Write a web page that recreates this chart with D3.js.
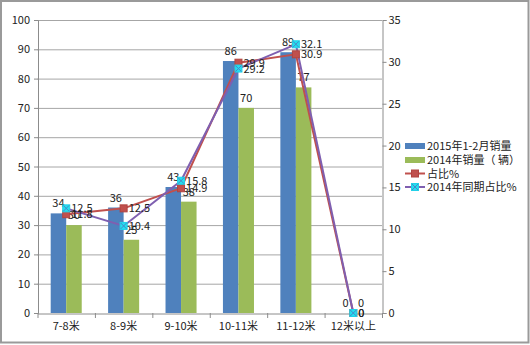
<!DOCTYPE html>
<html><head><meta charset="utf-8">
<script src="https://cdn.jsdelivr.net/npm/d3@7"></script>
<style>
body{margin:0;background:#fff;}
text{font-family:"Noto Sans CJK SC","DejaVu Sans",sans-serif;font-size:11px;fill:#222;}
</style></head>
<body><svg id="c" width="530" height="345"></svg>
<script>
const categories = ["7-8米","8-9米","9-10米","10-11米","11-12米","12米以上"];
const sales2015 = [34,36,43,86,89,0];
const sales2014 = [30,25,38,70,77,0];
const share2015 = [11.8,12.5,14.9,29.9,30.9,0];
const share2014 = [12.5,10.4,15.8,29.2,32.1,0];
const leftTicks = [0,10,20,30,40,50,60,70,80,90,100];
const rightTicks = [0,5,10,15,20,25,30,35];
const seriesNames = ["2015年1-2月销量","2014年销量（ 辆）","占比%","2014年同期占比%"];

const svg = d3.select("#c");
const L = 37.5, R = 382, T = 20, B = 313;
svg.append("rect").attr("x",1).attr("y",1).attr("width",527.5).attr("height",341.5)
  .attr("fill","#fff").attr("stroke","#9a9a9a").attr("stroke-width",2);

const x = d3.scaleBand().domain(categories).range([L,R]).paddingInner(0).paddingOuter(0);
const xs = d3.scaleBand().domain([0,1]).range([0,x.bandwidth()]).paddingOuter(0.85).paddingInner(0);
const yL = d3.scaleLinear().domain([0,100]).range([B,T]);
const yR = d3.scaleLinear().domain([0,35]).range([B,T]);

// gridlines
svg.append("g").selectAll("line").data(leftTicks.slice(1)).join("line")
  .attr("x1",L).attr("x2",R).attr("y1",d=>yL(d)+0.5).attr("y2",d=>yL(d)+0.5)
  .attr("stroke","#a6a6a6").attr("stroke-width",1);

const gL = svg.append("g").attr("transform",`translate(${L+0.5},0)`)
  .call(d3.axisLeft(yL).tickValues(leftTicks).tickSize(4).tickPadding(4));
const gR = svg.append("g").attr("transform",`translate(${R+0.5},0)`)
  .call(d3.axisRight(yR).tickValues(rightTicks).tickSize(4).tickPadding(2));
const gX = svg.append("g").attr("transform",`translate(0,${B+0.5})`)
  .call(d3.axisBottom(x).tickSize(0).tickPadding(9));
[gL,gR,gX].forEach(g=>{
  g.selectAll("path.domain").attr("stroke","#8c8c8c");
  g.selectAll(".tick line").attr("stroke","#8c8c8c");
  g.selectAll("text").style("font-family",'"Noto Sans CJK SC","DejaVu Sans",sans-serif').style("font-size","11px").attr("fill","#222");
});
svg.append("g").selectAll("line").data(categories.concat(["end"])).join("line")
  .attr("x1",(d,i)=>L+i*x.bandwidth()+0.5).attr("x2",(d,i)=>L+i*x.bandwidth()+0.5)
  .attr("y1",B).attr("y2",B+5).attr("stroke","#8c8c8c");

// bars
const barData = [sales2015, sales2014];
const barColors = ["#4f81bd","#9bbb59"];
barData.forEach((arr,si)=>{
  svg.append("g").selectAll("rect").data(arr).join("rect")
    .attr("x",(d,i)=>x(categories[i])+xs(si)).attr("width",xs.bandwidth())
    .attr("y",d=>yL(d)).attr("height",d=>B-yL(d)).attr("fill",barColors[si]);
});
barData.forEach((arr,si)=>{
  svg.append("g").selectAll("text").data(arr).join("text")
    .attr("x",(d,i)=>x(categories[i])+xs(si)+xs.bandwidth()/2)
    .attr("y",d=>yL(d)-6).attr("text-anchor","middle").text(d=>d);
});

// lines
const lineData = [share2015, share2014];
const lineColors = ["#c0504d","#7f5fb0"];
const cx = i => x(categories[i]) + x.bandwidth()/2;
lineData.forEach((arr,si)=>{
  const line = d3.line().x((d,i)=>cx(i)).y(d=>yR(d));
  svg.append("path").datum(arr).attr("d",line).attr("fill","none")
    .attr("stroke",lineColors[si]).attr("stroke-width",2);
});
function redMarker(g,px,py){
  g.append("rect").attr("x",px-3.5).attr("y",py-3.5).attr("width",7).attr("height",7)
    .attr("fill","#c0504d").attr("stroke","#b04440").attr("stroke-width",1);
}
function cyanMarker(g,px,py){
  g.append("rect").attr("x",px-3.5).attr("y",py-3.5).attr("width",7).attr("height",7)
    .attr("fill","#22e0f0").attr("stroke","#22d0e8");
  g.append("path").attr("d",`M${px-3},${py-3}L${px+3},${py+3}M${px+3},${py-3}L${px-3},${py+3}`)
    .attr("stroke","#4a86c8").attr("stroke-width",1);
}
const mg = svg.append("g");
share2015.forEach((d,i)=>redMarker(mg,cx(i),yR(d)));
share2014.forEach((d,i)=>cyanMarker(mg,cx(i),yR(d)));
lineData.forEach((arr,si)=>{
  svg.append("g").selectAll("text").data(arr).join("text")
    .attr("x",(d,i)=>cx(i)+5).attr("y",d=>yR(d)+4).text(d=>d);
});

// legend
const lg = svg.append("g");
const ly = [146,160,173.5,187];
lg.append("rect").attr("x",405).attr("y",ly[0]-3).attr("width",20).attr("height",6).attr("fill",barColors[0]);
lg.append("rect").attr("x",405).attr("y",ly[1]-3).attr("width",20).attr("height",6).attr("fill",barColors[1]);
lg.append("line").attr("x1",405).attr("x2",425).attr("y1",ly[2]).attr("y2",ly[2]).attr("stroke",lineColors[0]).attr("stroke-width",2);
redMarker(lg,415,ly[2]);
lg.append("line").attr("x1",405).attr("x2",425).attr("y1",ly[3]).attr("y2",ly[3]).attr("stroke",lineColors[1]).attr("stroke-width",2);
cyanMarker(lg,415,ly[3]);
seriesNames.forEach((n,i)=>{
  lg.append("text").attr("x",427).attr("y",ly[i]+4).text(n);
});
</script></body></html>
